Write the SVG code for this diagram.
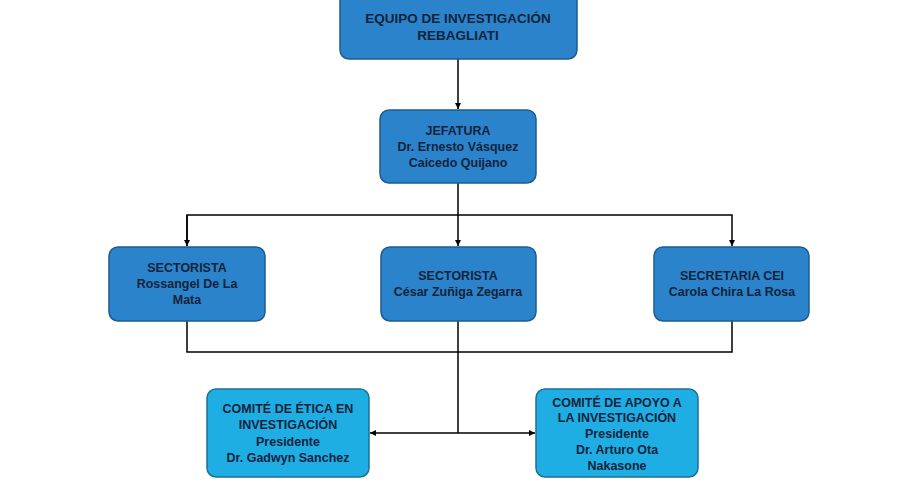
<svg xmlns="http://www.w3.org/2000/svg" width="900" height="500" viewBox="0 0 900 500">
<defs>
<marker id="ah" viewBox="0 0 10 10" refX="10" refY="5" markerWidth="7" markerHeight="6" markerUnits="userSpaceOnUse" orient="auto">
<path d="M0,0 L10,5 L0,10 z" fill="#000"/>
</marker>
<style>
.b{fill:#2A83CB;stroke:#1E5C8E;stroke-width:1.5}
.c{fill:#1EAEE4;stroke:#1E6F94;stroke-width:1.5}
.t{font-family:"Liberation Sans",Arial,sans-serif;font-weight:bold;font-size:12.5px;fill:#14233A;text-anchor:middle}
.ln{fill:none;stroke:#000;stroke-width:1.5}
</style>
</defs>
<rect width="900" height="500" fill="#fff"/>
<g id="connectors">
<path class="ln" d="M458,59 L458,109" marker-end="url(#ah)"/>
<path class="ln" d="M458,183 L458,246" marker-end="url(#ah)"/>
<path class="ln" d="M187,246 L187,215 L732,215 L732,246" marker-end="url(#ah)"/>
<path class="ln" d="M187,215 L187,246" marker-end="url(#ah)"/>
<path class="ln" d="M187,321 L187,352 L732,352 L732,321"/>
<path class="ln" d="M458,321 L458,433"/>
<path class="ln" d="M458,433 L370,433" marker-end="url(#ah)"/>
<path class="ln" d="M458,433 L535,433" marker-end="url(#ah)"/>
</g>
<g id="equipo">
<rect class="b" x="340" y="-10" width="237" height="69" rx="9"/>
<text class="t" style="font-size:13.5px" x="458" y="23">EQUIPO DE INVESTIGACIÓN</text>
<text class="t" style="font-size:13.5px" x="458" y="40">REBAGLIATI</text>
</g>
<g id="jefatura">
<rect class="b" x="380" y="110" width="156" height="73" rx="9"/>
<text class="t" x="458" y="135">JEFATURA</text>
<text class="t" x="458" y="151">Dr. Ernesto Vásquez</text>
<text class="t" x="458" y="167">Caicedo Quijano</text>
</g>
<g id="sectorista1">
<rect class="b" x="109" y="247" width="156" height="74" rx="9"/>
<text class="t" x="187" y="272">SECTORISTA</text>
<text class="t" x="187" y="288">Rossangel De La</text>
<text class="t" x="187" y="304">Mata</text>
</g>
<g id="sectorista2">
<rect class="b" x="381" y="247" width="155" height="74" rx="9"/>
<text class="t" x="458" y="280">SECTORISTA</text>
<text class="t" x="458" y="296">César Zuñiga Zegarra</text>
</g>
<g id="secretaria">
<rect class="b" x="654" y="247" width="155" height="74" rx="9"/>
<text class="t" x="732" y="280">SECRETARIA CEI</text>
<text class="t" x="732" y="296">Carola Chira La Rosa</text>
</g>
<g id="comite-etica">
<rect class="c" x="207" y="389" width="162" height="88" rx="9"/>
<text class="t" x="288" y="413">COMITÉ DE ÉTICA EN</text>
<text class="t" x="288" y="429">INVESTIGACIÓN</text>
<text class="t" x="288" y="446">Presidente</text>
<text class="t" x="288" y="462">Dr. Gadwyn Sanchez</text>
</g>
<g id="comite-apoyo">
<rect class="c" x="536" y="389" width="162" height="88" rx="9"/>
<text class="t" x="617" y="407">COMITÉ DE APOYO A</text>
<text class="t" x="617" y="422">LA INVESTIGACIÓN</text>
<text class="t" x="617" y="438">Presidente</text>
<text class="t" x="617" y="454">Dr. Arturo Ota</text>
<text class="t" x="617" y="470">Nakasone</text>
</g>
</svg>
